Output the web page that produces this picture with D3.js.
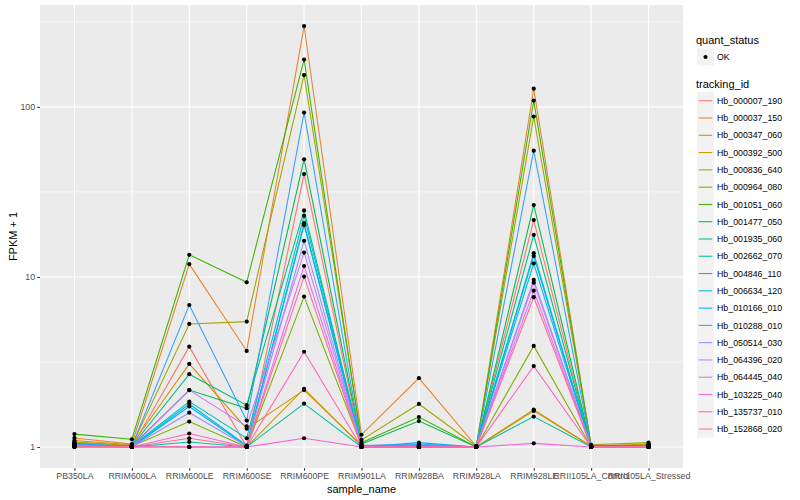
<!DOCTYPE html>
<html>
  <head>
    <meta charset="utf-8">
    <script src="https://d3js.org/d3.v7.min.js"></script>
    <style>
      body { margin: 0; background: #fff; }
      text { font-family: "Liberation Sans", Arial, sans-serif; }
    </style>
  </head>
  <body>
    <div id="chart"></div>
    <script type="text/javascript">
    // sample names along the x axis
    var samples = ["PB350LA", "RRIM600LA", "RRIM600LE", "RRIM600SE", "RRIM600PE", "RRIM901LA",
      "RRIM928BA", "RRIM928LA", "RRIM928LE", "RRII105LA_Control", "RRII105LA_Stressed"];

    // genes, in legend order
    var trackingIds = ["Hb_000007_190", "Hb_000037_150", "Hb_000347_060", "Hb_000392_500", "Hb_000836_640",
      "Hb_000964_080", "Hb_001051_060", "Hb_001477_050", "Hb_001935_060", "Hb_002662_070",
      "Hb_004846_110", "Hb_006634_120", "Hb_010166_010", "Hb_010288_010", "Hb_050514_030",
      "Hb_064396_020", "Hb_064445_040", "Hb_103225_040", "Hb_135737_010", "Hb_152868_020"];

    // ggplot hue palette for 20 groups
    var colors = ["#F8766D", "#EA8331", "#D89000", "#C09B00", "#A3A500", "#7CAE00", "#39B600", "#00BB4E",
      "#00BF7D", "#00C1A3", "#00BFC4", "#00BAE0", "#00B0F6", "#35A2FF", "#9590FF", "#C77CFF",
      "#E76BF3", "#FA62DB", "#FF62BC", "#FF6C91"];

    // FPKM + 1 for each sample, one value per tracking_id (same order as trackingIds)
    var PB350LA    = [1.01, 1.13, 1.09, 1.06, 1.07, 1.03, 1.19, 1.02, 1.03, 1.02, 1.04, 1.03, 1.05, 1.04, 1.02, 1.01, 1.00, 1.00, 1.00, 1.01];
    var RRIM600LA  = [1.00, 1.04, 1.03, 1.02, 1.02, 1.01, 1.11, 1.01, 1.01, 1.00, 1.01, 1.00, 1.00, 1.01, 1.00, 1.00, 1.00, 1.00, 1.00, 1.00];
    var RRIM600LE  = [3.89, 11.9, 3.08, 1.00, 5.29, 1.41, 13.5, 2.16, 2.68, 1.07, 1.85, 1.79, 1.73, 6.84, 1.59, 2.16, 1.00, 1.00, 1.20, 1.125];
    var RRIM600SE  = [1.00, 3.67, 1.28, 1.00, 5.46, 1.00, 9.30, 1.69, 1.76, 1.00, 1.125, 1.02, 1.01, 1.43, 1.01, 1.32, 1.00, 1.00, 1.00, 1.00];
    var RRIM600PE  = [40.3, 299, 2.16, 2.20, 154, 7.66, 190, 49.2, 24.6, 1.80, 22.9, 20.7, 20.2, 92.6, 16.3, 13.9, 11.6, 1.125, 3.63, 10.05];
    var RRIM901LA  = [1.00, 1.18, 1.02, 1.01, 1.10, 1.02, 1.06, 1.04, 1.01, 1.00, 1.00, 1.00, 1.00, 1.02, 1.00, 1.00, 1.00, 1.00, 1.00, 1.00];
    var RRIM928BA  = [1.00, 2.54, 1.00, 1.00, 1.79, 1.00, 1.50, 1.42, 1.01, 1.00, 1.02, 1.03, 1.06, 1.04, 1.00, 1.00, 1.00, 1.00, 1.00, 1.00];
    var RRIM928LA  = [1.00, 1.01, 1.00, 1.00, 1.01, 1.00, 1.00, 1.00, 1.00, 1.00, 1.00, 1.00, 1.00, 1.00, 1.00, 1.00, 1.00, 1.00, 1.00, 1.00];
    var RRIM928LE  = [21.6, 128, 1.63, 1.66, 87.7, 3.93, 109, 26.5, 17.7, 1.51, 13.8, 12.0, 13.3, 55.3, 9.60, 9.25, 8.30, 1.05, 2.99, 7.60];
    var RRII105LA_Control  = [1.00, 1.02, 1.01, 1.01, 1.03, 1.00, 1.02, 1.01, 1.00, 1.00, 1.00, 1.00, 1.00, 1.00, 1.00, 1.00, 1.00, 1.00, 1.00, 1.00];
    var RRII105LA_Stressed = [1.00, 1.03, 1.02, 1.04, 1.06, 1.03, 1.02, 1.01, 1.00, 1.00, 1.02, 1.01, 1.00, 1.00, 1.00, 1.00, 1.00, 1.00, 1.00, 1.00];

    var columns = [PB350LA, RRIM600LA, RRIM600LE, RRIM600SE, RRIM600PE, RRIM901LA,
      RRIM928BA, RRIM928LA, RRIM928LE, RRII105LA_Control, RRII105LA_Stressed];

    var yTicks = [1, 10, 100];
    var yMinor = [Math.pow(10, 0.5), Math.pow(10, 1.5), Math.pow(10, 2.5)];

    function draw() {
      // one series per tracking_id
      var series = trackingIds.map(function(id, i) {
        return { id: id, color: colors[i], values: samples.map(function(s, j) {
          return { sample: s, value: columns[j][i] };
        }) };
      });

      var width = 800, height = 500;
      var pLeft = 40, pRight = 683, pTop = 5, pBottom = 468;

      var svg = d3.select("#chart").append("svg")
        .attr("width", width)
        .attr("height", height);

      // x: discrete with ggplot's 0.6 expansion
      var x = d3.scalePoint().domain(samples).range([pLeft, pRight]).padding(0.6);

      // y: log10 with 5% expansion
      var maxLog = Math.log10(d3.max(columns, function(c) { return d3.max(c); }));
      var pad = 0.05 * maxLog;
      var y = d3.scaleLog()
        .domain([Math.pow(10, -pad), Math.pow(10, maxLog + pad)])
        .range([pBottom, pTop]);

      // panel
      svg.append("rect")
        .attr("x", pLeft).attr("y", pTop)
        .attr("width", pRight - pLeft).attr("height", pBottom - pTop)
        .attr("fill", "#EBEBEB");

      var grid = svg.append("g");
      grid.selectAll(".minor").data(yMinor).enter().append("line")
        .attr("x1", pLeft).attr("x2", pRight)
        .attr("y1", function(d) { return y(d); }).attr("y2", function(d) { return y(d); })
        .attr("stroke", "#fff").attr("stroke-width", 0.55);
      grid.selectAll(".major").data(yTicks).enter().append("line")
        .attr("x1", pLeft).attr("x2", pRight)
        .attr("y1", function(d) { return y(d); }).attr("y2", function(d) { return y(d); })
        .attr("stroke", "#fff").attr("stroke-width", 1.1);
      grid.selectAll(".vx").data(samples).enter().append("line")
        .attr("x1", function(d) { return x(d); }).attr("x2", function(d) { return x(d); })
        .attr("y1", pTop).attr("y2", pBottom)
        .attr("stroke", "#fff").attr("stroke-width", 1.1);

      // lines
      var line = d3.line()
        .x(function(d) { return x(d.sample); })
        .y(function(d) { return y(d.value); });

      svg.append("g").selectAll("path").data(series).enter().append("path")
        .attr("d", function(d) { return line(d.values); })
        .attr("fill", "none")
        .attr("stroke", function(d) { return d.color; })
        .attr("stroke-width", 1.07);

      // points
      var pts = svg.append("g");
      series.forEach(function(s) {
        pts.selectAll(null).data(s.values).enter().append("circle")
          .attr("cx", function(d) { return x(d.sample); })
          .attr("cy", function(d) { return y(d.value); })
          .attr("r", 2.1)
          .attr("fill", "#000");
      });

      // axes
      var yAxis = svg.append("g")
        .attr("transform", "translate(" + pLeft + ",0)")
        .call(d3.axisLeft(y).tickValues(yTicks).tickFormat(d3.format("d")).tickSize(2.75).tickPadding(2.2));
      yAxis.select(".domain").remove();
      yAxis.selectAll("line").attr("stroke", "#333333");
      yAxis.selectAll("text").attr("fill", "#4D4D4D").style("font-size", "8.8px");

      var xAxis = svg.append("g")
        .attr("transform", "translate(0," + pBottom + ")")
        .call(d3.axisBottom(x).tickSize(2.75).tickPadding(2.2));
      xAxis.select(".domain").remove();
      xAxis.selectAll("line").attr("stroke", "#333333");
      xAxis.selectAll("text").attr("fill", "#4D4D4D").style("font-size", "8.8px");

      // axis titles
      svg.append("text")
        .attr("x", (pLeft + pRight) / 2).attr("y", 493)
        .attr("text-anchor", "middle")
        .style("font-size", "11px")
        .text("sample_name");

      svg.append("text")
        .attr("transform", "translate(17," + (pTop + pBottom) / 2 + ") rotate(-90)")
        .attr("text-anchor", "middle")
        .style("font-size", "11px")
        .text("FPKM + 1");

      // legends
      var lg = svg.append("g");
      lg.append("text").attr("x", 696).attr("y", 44).style("font-size", "11px").text("quant_status");
      lg.append("rect").attr("x", 697).attr("y", 48.5).attr("width", 17).attr("height", 17).attr("fill", "#F2F2F2");
      lg.append("circle").attr("cx", 705.5).attr("cy", 57).attr("r", 2.1).attr("fill", "#000");
      lg.append("text").attr("x", 717).attr("y", 60.2).style("font-size", "8.8px").text("OK");

      lg.append("text").attr("x", 696).attr("y", 88).style("font-size", "11px").text("tracking_id");
      var keys = lg.selectAll(".key").data(series).enter().append("g")
        .attr("transform", function(d, i) { return "translate(697," + (92.1 + i * 17.28) + ")"; });
      keys.append("rect").attr("width", 17).attr("height", 17.28).attr("fill", "#F2F2F2");
      keys.append("line").attr("x1", 1.7).attr("x2", 15.3).attr("y1", 8.64).attr("y2", 8.64)
        .attr("stroke", function(d) { return d.color; }).attr("stroke-width", 1.07);
      keys.append("text").attr("x", 20).attr("y", 11.8).style("font-size", "8.8px")
        .text(function(d) { return d.id; });
    }

    draw();
    </script>
  </body>
</html>
